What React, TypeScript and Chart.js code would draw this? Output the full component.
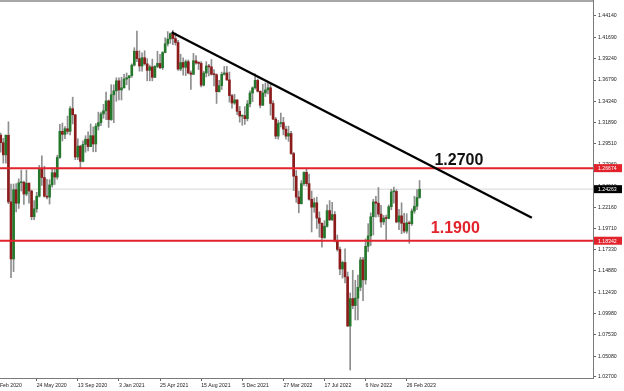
import React, { useEffect, useRef } from 'react';
import { Chart, registerables } from 'chart.js';

Chart.register(...registerables);

// Weekly candles, index 0 = week of 2 Feb 2020 ... index 165 = week of 2 Apr 2023
const opens = [
  1.3200, 1.2890, 1.3045, 1.2960, 1.2820, 1.3045, 1.2280, 1.1625, 1.2420, 1.2265,
  1.2500, 1.2505, 1.2370, 1.2495, 1.2405, 1.2110, 1.2200, 1.2345, 1.2665, 1.2560,
  1.2345, 1.2335, 1.2475, 1.2615, 1.2565, 1.2790, 1.3090, 1.3055, 1.3120, 1.3090,
  1.3350, 1.3280, 1.2795, 1.2920, 1.2745, 1.2940, 1.3000, 1.2915, 1.3040, 1.2945,
  1.3150, 1.3190, 1.3290, 1.3325, 1.3440, 1.3225, 1.3510, 1.3555, 1.3670, 1.3565,
  1.3590, 1.3690, 1.3705, 1.3730, 1.3850, 1.4010, 1.3925, 1.3840, 1.3935, 1.3865,
  1.3790, 1.3830, 1.3710, 1.3835, 1.3870, 1.3820, 1.3995, 1.4095, 1.4150, 1.4210,
  1.4155, 1.4110, 1.3805, 1.3880, 1.3825, 1.3890, 1.3760, 1.3745, 1.3900, 1.3875,
  1.3870, 1.3620, 1.3760, 1.3840, 1.3830, 1.3745, 1.3740, 1.3545, 1.3615, 1.3745,
  1.3760, 1.3680, 1.3500, 1.3415, 1.3450, 1.3320, 1.3265, 1.3270, 1.3235, 1.3405,
  1.3530, 1.3590, 1.3675, 1.3550, 1.3390, 1.3530, 1.3565, 1.3590, 1.3410, 1.3230,
  1.3035, 1.3180, 1.3190, 1.3115, 1.3035, 1.3065, 1.2835, 1.2575, 1.2335, 1.2260,
  1.2490, 1.2620, 1.2490, 1.2310, 1.2220, 1.2270, 1.2095, 1.2035, 1.1870, 1.2000,
  1.2180, 1.2075, 1.2135, 1.1835, 1.1735, 1.1510, 1.1585, 1.1420, 1.0855, 1.1170,
  1.1090, 1.1175, 1.1300, 1.1615, 1.1385, 1.1770, 1.1890, 1.2110, 1.2280, 1.2265,
  1.2140, 1.2050, 1.2095, 1.2090, 1.2225, 1.2395, 1.2400, 1.2050, 1.2120, 1.2035,
  1.1945, 1.2040, 1.2030, 1.2175, 1.2230, 1.2330,
];
const highs = [
  1.3210, 1.3070, 1.3070, 1.3010, 1.3050, 1.3200, 1.2485, 1.2485, 1.2490, 1.2545,
  1.2645, 1.2520, 1.2645, 1.2500, 1.2415, 1.2295, 1.2390, 1.2700, 1.2810, 1.2690,
  1.2540, 1.2535, 1.2670, 1.2670, 1.2815, 1.3170, 1.3185, 1.3145, 1.3265, 1.3375,
  1.3482, 1.3285, 1.3005, 1.2930, 1.2980, 1.3040, 1.3085, 1.3175, 1.3140, 1.3180,
  1.3310, 1.3310, 1.3400, 1.3540, 1.3450, 1.3625, 1.3625, 1.3705, 1.3705, 1.3710,
  1.3745, 1.3760, 1.3715, 1.3865, 1.4050, 1.4240, 1.4015, 1.3990, 1.4015, 1.3925,
  1.3850, 1.3920, 1.3845, 1.4010, 1.3975, 1.4005, 1.4165, 1.4235, 1.4220, 1.4250,
  1.4220, 1.4135, 1.3975, 1.3935, 1.3910, 1.3910, 1.3785, 1.3985, 1.3960, 1.3890,
  1.3890, 1.3780, 1.3890, 1.3860, 1.3915, 1.3800, 1.3750, 1.3675, 1.3770, 1.3835,
  1.3835, 1.3770, 1.3515, 1.3515, 1.3455, 1.3375, 1.3275, 1.3375, 1.3445, 1.3555,
  1.3600, 1.3750, 1.3690, 1.3555, 1.3630, 1.3645, 1.3645, 1.3645, 1.3440, 1.3250,
  1.3215, 1.3300, 1.3250, 1.3150, 1.3150, 1.3090, 1.2850, 1.2640, 1.2405, 1.2525,
  1.2625, 1.2665, 1.2600, 1.2405, 1.2325, 1.2335, 1.2165, 1.2040, 1.2065, 1.2245,
  1.2295, 1.2275, 1.2170, 1.1900, 1.1760, 1.1600, 1.1740, 1.1475, 1.1235, 1.1495,
  1.1380, 1.1440, 1.1645, 1.1645, 1.1855, 1.2030, 1.2155, 1.2310, 1.2345, 1.2445,
  1.2240, 1.2125, 1.2130, 1.2245, 1.2425, 1.2450, 1.2420, 1.2195, 1.2270, 1.2150,
  1.2145, 1.2060, 1.2200, 1.2345, 1.2420, 1.2525,
];
const lows = [
  1.2870, 1.2875, 1.2850, 1.2725, 1.2725, 1.2260, 1.1410, 1.1480, 1.2165, 1.2205,
  1.2405, 1.2250, 1.2350, 1.2265, 1.2075, 1.2075, 1.2160, 1.2335, 1.2470, 1.2335,
  1.2315, 1.2255, 1.2450, 1.2480, 1.2540, 1.2780, 1.2980, 1.3005, 1.3060, 1.3050,
  1.3175, 1.2765, 1.2765, 1.2675, 1.2740, 1.2850, 1.2865, 1.2915, 1.2855, 1.2855,
  1.3105, 1.3155, 1.3240, 1.3225, 1.3135, 1.3215, 1.3190, 1.3435, 1.3450, 1.3450,
  1.3585, 1.3625, 1.3565, 1.3710, 1.3840, 1.3890, 1.3780, 1.3780, 1.3850, 1.3670,
  1.3670, 1.3670, 1.3705, 1.3820, 1.3810, 1.3800, 1.3990, 1.4070, 1.4100, 1.4085,
  1.4080, 1.3790, 1.3785, 1.3735, 1.3730, 1.3750, 1.3570, 1.3740, 1.3860, 1.3800,
  1.3600, 1.3610, 1.3715, 1.3725, 1.3735, 1.3610, 1.3410, 1.3540, 1.3570, 1.3735,
  1.3675, 1.3425, 1.3355, 1.3400, 1.3280, 1.3195, 1.3160, 1.3170, 1.3210, 1.3370,
  1.3430, 1.3575, 1.3540, 1.3360, 1.3385, 1.3490, 1.3520, 1.3275, 1.3225, 1.3005,
  1.3000, 1.3140, 1.3050, 1.3000, 1.2975, 1.2825, 1.2410, 1.2275, 1.2155, 1.2255,
  1.2470, 1.2460, 1.2300, 1.1935, 1.2160, 1.1975, 1.1875, 1.1760, 1.1860, 1.1990,
  1.2065, 1.2065, 1.1820, 1.1715, 1.1445, 1.1405, 1.1350, 1.0850, 1.0350, 1.1055,
  1.0925, 1.0925, 1.1260, 1.1145, 1.1335, 1.1710, 1.1780, 1.1900, 1.2105, 1.2110,
  1.1990, 1.2020, 1.1840, 1.2085, 1.2190, 1.2265, 1.2040, 1.1960, 1.1915, 1.1925,
  1.1920, 1.1805, 1.2010, 1.2150, 1.2190, 1.2320,
];
const closes = [
  1.2890, 1.3045, 1.2960, 1.2820, 1.3045, 1.2280, 1.1625, 1.2420, 1.2265, 1.2500,
  1.2505, 1.2370, 1.2495, 1.2405, 1.2110, 1.2200, 1.2345, 1.2665, 1.2560, 1.2345,
  1.2335, 1.2475, 1.2615, 1.2565, 1.2790, 1.3090, 1.3055, 1.3120, 1.3090, 1.3350,
  1.3280, 1.2795, 1.2920, 1.2745, 1.2940, 1.3000, 1.2915, 1.3040, 1.2945, 1.3150,
  1.3190, 1.3290, 1.3325, 1.3440, 1.3225, 1.3510, 1.3555, 1.3670, 1.3565, 1.3590,
  1.3690, 1.3705, 1.3730, 1.3850, 1.4010, 1.3925, 1.3840, 1.3935, 1.3865, 1.3790,
  1.3830, 1.3710, 1.3835, 1.3870, 1.3820, 1.3995, 1.4095, 1.4150, 1.4210, 1.4155,
  1.4110, 1.3805, 1.3880, 1.3825, 1.3890, 1.3760, 1.3745, 1.3900, 1.3875, 1.3870,
  1.3620, 1.3760, 1.3840, 1.3830, 1.3745, 1.3740, 1.3545, 1.3615, 1.3745, 1.3760,
  1.3680, 1.3500, 1.3415, 1.3450, 1.3320, 1.3265, 1.3270, 1.3235, 1.3405, 1.3530,
  1.3590, 1.3675, 1.3550, 1.3390, 1.3530, 1.3565, 1.3590, 1.3410, 1.3230, 1.3035,
  1.3180, 1.3190, 1.3115, 1.3035, 1.3065, 1.2835, 1.2575, 1.2335, 1.2260, 1.2490,
  1.2620, 1.2490, 1.2310, 1.2220, 1.2270, 1.2095, 1.2035, 1.1870, 1.2000, 1.2180,
  1.2075, 1.2135, 1.1835, 1.1735, 1.1510, 1.1585, 1.1420, 1.0855, 1.1170, 1.1090,
  1.1175, 1.1300, 1.1615, 1.1385, 1.1770, 1.1890, 1.2110, 1.2280, 1.2265, 1.2140,
  1.2050, 1.2095, 1.2090, 1.2225, 1.2395, 1.2400, 1.2050, 1.2120, 1.2035, 1.1945,
  1.2040, 1.2030, 1.2175, 1.2230, 1.2330, 1.2426,
];

// Date axis: one label every 16 weeks (week index of each label)
const dateLabels = [
  '2 Feb 2020', '24 May 2020', '13 Sep 2020', '3 Jan 2021', '25 Apr 2021', '15 Aug 2021',
  '5 Dec 2021', '27 Mar 2022', '17 Jul 2022', '6 Nov 2022', '26 Feb 2023',
];
const dateLabelWeeks = [0, 16, 32, 48, 64, 80, 96, 112, 128, 144, 160];

// Price axis labels
const priceTicks = [
  1.4414, 1.4169, 1.3924, 1.3679, 1.3434, 1.3189, 1.2951, 1.2706, 1.2461,
  1.2216, 1.1971, 1.1733, 1.1488, 1.1243, 1.0998, 1.0753, 1.0508, 1.027,
];

// Levels and annotations
const resistanceLevel = 1.26674;
const supportLevel = 1.18342;
const lastPrice = 1.24263;
const trendWeeks = [68.5, 208.7];
const trendPrices = [1.4227, 1.2098];
const noteTexts = ['1.2700', '1.1900'];
const noteWeeks = [170.8, 169.4];
const notePrices = [1.2701, 1.1920];

const X_MIN = 1.713;
const X_MAX = 232.5;
const Y_MIN = 1.02585;
const Y_MAX = 1.45747;

const RED = '#e2232b';
const AXIS_FONT = { family: '"Liberation Sans", Arial, sans-serif', size: 5.2 };

export default function App() {
  const ref = useRef<HTMLCanvasElement | null>(null);

  useEffect(() => {
    const canvas = ref.current;
    if (!canvas) return;

    const idx = opens.map((_, i) => i);
    const bodies = idx.map((i) => ({ x: i, y: [opens[i], closes[i]] }));
    const wicks = idx.map((i) => ({ x: i, y: [lows[i], highs[i]] }));
    const bodyColors = idx.map((i) => (closes[i] >= opens[i] ? '#24782c' : '#8c1c1c'));

    const overlay = {
      id: 'overlay',
      afterDatasetsDraw(chart: any) {
        const { ctx, scales } = chart;
        ctx.save();
        ctx.font = 'bold 16px "Liberation Sans", Arial, sans-serif';
        ctx.textAlign = 'left';
        ctx.textBaseline = 'alphabetic';
        noteTexts.forEach((t, k) => {
          ctx.fillStyle = k === 0 ? '#111111' : RED;
          ctx.fillText(t, scales.x.getPixelForValue(noteWeeks[k]), scales.y.getPixelForValue(notePrices[k]));
        });
        ctx.restore();
      },
      afterDraw(chart: any) {
        const { ctx, chartArea, scales } = chart;
        ctx.save();
        // top frame line
        ctx.strokeStyle = '#a8a8a8';
        ctx.lineWidth = 2;
        ctx.beginPath();
        ctx.moveTo(0, 1);
        ctx.lineTo(chartArea.right, 1);
        ctx.stroke();
        // right axis line to top
        ctx.strokeStyle = '#7a7a7a';
        ctx.lineWidth = 1;
        ctx.beginPath();
        ctx.moveTo(chartArea.right + 0.5, 0);
        ctx.lineTo(chartArea.right + 0.5, chartArea.bottom);
        ctx.stroke();
        // price boxes
        const boxes = [
          { v: resistanceLevel, bg: RED },
          { v: lastPrice, bg: '#000000' },
          { v: supportLevel, bg: RED },
        ];
        ctx.font = `${AXIS_FONT.size}px ${AXIS_FONT.family}`;
        ctx.textAlign = 'left';
        ctx.textBaseline = 'middle';
        boxes.forEach((b) => {
          const y = scales.y.getPixelForValue(b.v);
          ctx.fillStyle = b.bg;
          ctx.fillRect(chartArea.right + 1, y - 4, 28, 8);
          ctx.fillStyle = '#ffffff';
          ctx.fillText(b.v.toFixed(5), chartArea.right + 5, y + 0.5);
        });
        ctx.restore();
      },
    };

    const chart = new Chart(canvas, {
      type: 'bar',
      data: {
        datasets: [
          {
            type: 'line',
            data: trendWeeks.map((w, k) => ({ x: w, y: trendPrices[k] })),
            borderColor: '#000000',
            borderWidth: 2.4,
            pointRadius: 0,
            order: 0,
          } as any,
          {
            type: 'line',
            data: [{ x: X_MIN, y: resistanceLevel }, { x: X_MAX, y: resistanceLevel }],
            borderColor: RED,
            borderWidth: 2,
            pointRadius: 0,
            order: 1,
          } as any,
          {
            type: 'line',
            data: [{ x: X_MIN, y: supportLevel }, { x: X_MAX, y: supportLevel }],
            borderColor: RED,
            borderWidth: 2,
            pointRadius: 0,
            order: 1,
          } as any,
          {
            type: 'bar',
            data: bodies,
            backgroundColor: bodyColors,
            barThickness: 2,
            grouped: false,
            minBarLength: 1,
            order: 2,
          } as any,
          {
            type: 'bar',
            data: wicks,
            backgroundColor: '#8e8e8e',
            barThickness: 1,
            grouped: false,
            order: 3,
          } as any,
          {
            type: 'line',
            data: [{ x: X_MIN, y: lastPrice }, { x: X_MAX, y: lastPrice }],
            borderColor: '#d6d6d6',
            borderWidth: 1,
            pointRadius: 0,
            order: 4,
          } as any,
        ],
      },
      options: {
        responsive: false,
        animation: false,
        devicePixelRatio: 1,
        events: [],
        layout: { padding: { top: 2, left: 0, right: 0, bottom: 0 } },
        plugins: { legend: { display: false }, tooltip: { enabled: false } },
        scales: {
          x: {
            type: 'linear',
            min: X_MIN,
            max: X_MAX,
            offset: false,
            afterBuildTicks: (s: any) => {
              s.ticks = dateLabelWeeks.map((v) => ({ value: v }));
            },
            afterFit: (s: any) => {
              s.height = 13;
              s.paddingLeft = 0;
              s.paddingRight = 0;
            },
            ticks: {
              autoSkip: false,
              maxRotation: 0,
              minRotation: 0,
              align: 'start',
              padding: 1,
              color: '#222222',
              font: AXIS_FONT,
              callback: (_v: any, i: number) => dateLabels[i],
            },
            grid: { drawOnChartArea: false, drawTicks: true, tickLength: 3, color: '#666666', offset: false },
            border: { color: '#7a7a7a', width: 1 },
          },
          y: {
            type: 'linear',
            position: 'right',
            min: Y_MIN,
            max: Y_MAX,
            afterBuildTicks: (s: any) => {
              s.ticks = priceTicks.map((v) => ({ value: v }));
            },
            afterFit: (s: any) => {
              s.width = 31;
              s.paddingTop = 0;
              s.paddingBottom = 0;
            },
            ticks: {
              autoSkip: false,
              padding: 2,
              color: '#222222',
              font: AXIS_FONT,
              callback: (v: any) => Number(v).toFixed(5),
            },
            grid: { drawOnChartArea: false, drawTicks: true, tickLength: 3, color: '#666666' },
            border: { color: '#7a7a7a', width: 1 },
          },
        },
      } as any,
      plugins: [overlay],
    });

    return () => chart.destroy();
  }, []);

  return (
    <div style={{ position: 'fixed', left: 0, top: 0, width: 624, height: 391, background: '#ffffff' }}>
      <canvas ref={ref} width={624} height={391} style={{ display: 'block' }} />
    </div>
  );
}
